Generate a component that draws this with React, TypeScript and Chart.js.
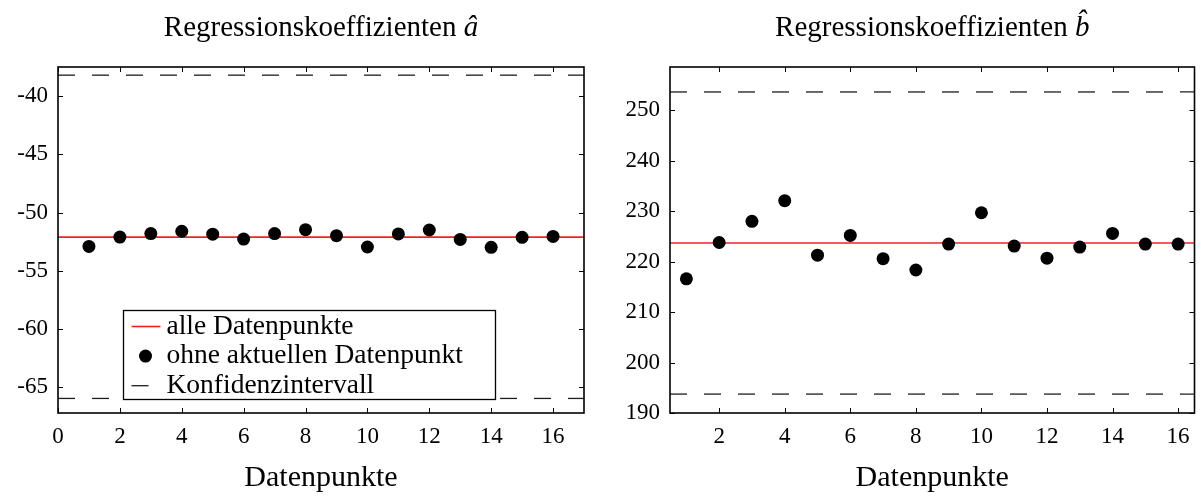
import React, { useEffect, useRef } from "react";
import { Chart, registerables } from "chart.js";

Chart.register(...registerables);

const FONT = '"Liberation Serif", "Times New Roman", serif';
const RED = "rgb(238, 36, 36)";
const DASH_COLOR = "#1e1e1e";

// ---------- data ----------
const datenpunkte = [1, 2, 3, 4, 5, 6, 7, 8, 9, 10, 11, 12, 13, 14, 15, 16];

const aHat = [-52.9, -52.1, -51.8, -51.6, -51.85, -52.27, -51.8, -51.46, -51.98, -52.95, -51.83, -51.49, -52.3, -52.98, -52.12, -52.04];
const aAlle = -52.1;
const aKonfidenz = [-65.95, -38.2];
const aXTicks = [0, 2, 4, 6, 8, 10, 12, 14, 16];
const aYTicks = [-65, -60, -55, -50, -45, -40];
const aXLimits = [0, 17];
const aYLimits = [-67.2, -37.5];

const bHat = [216.6, 223.8, 228.0, 232.1, 221.3, 225.2, 220.6, 218.35, 223.5, 229.7, 223.1, 220.7, 222.9, 225.6, 223.5, 223.5];
const bAlle = 223.7;
const bKonfidenz = [193.75, 253.65];
const bXTicks = [2, 4, 6, 8, 10, 12, 14, 16];
const bYTicks = [190, 200, 210, 220, 230, 240, 250];
const bXLimits = [0.5, 16.5];
const bYLimits = [190, 258.6];

const legendLabels = ["alle Datenpunkte", "ohne aktuellen Datenpunkt", "Konfidenzintervall"];
const titleText = "Regressionskoeffizienten";
const xTitle = "Datenpunkte";

// ---------- plugins ----------
const framePlugin = {
  id: "frame",
  afterDraw(chart: any) {
    const { ctx, chartArea } = chart;
    const { left, right, top, bottom } = chartArea;
    const x = chart.scales.x;
    const y = chart.scales.y;
    ctx.save();
    ctx.strokeStyle = "#000";
    ctx.lineWidth = 1;
    ctx.beginPath();
    x.ticks.forEach((t: any) => {
      const px = Math.round(x.getPixelForValue(t.value)) + 0.5;
      ctx.moveTo(px, bottom);
      ctx.lineTo(px, bottom - 5);
      ctx.moveTo(px, top);
      ctx.lineTo(px, top + 5);
    });
    y.ticks.forEach((t: any) => {
      const py = Math.round(y.getPixelForValue(t.value)) + 0.5;
      ctx.moveTo(left, py);
      ctx.lineTo(left + 5, py);
      ctx.moveTo(right, py);
      ctx.lineTo(right - 5, py);
    });
    ctx.stroke();
    ctx.lineWidth = 1.6;
    ctx.strokeRect(left, top, right - left, bottom - top);
    ctx.restore();
  },
};

function makeTitlePlugin(hat: string) {
  return {
    id: "plotTitle",
    afterDraw(chart: any) {
      const { ctx, chartArea } = chart;
      const cx = (chartArea.left + chartArea.right) / 2;
      const normal = `29px ${FONT}`;
      const ital = `italic 29px ${FONT}`;
      ctx.save();
      ctx.fillStyle = "#000";
      ctx.textBaseline = "alphabetic";
      ctx.textAlign = "left";
      const t1 = titleText + " ";
      ctx.font = normal;
      const w1 = ctx.measureText(t1).width;
      ctx.font = ital;
      const w2 = ctx.measureText(hat).width;
      const x0 = cx - (w1 + w2) / 2;
      ctx.font = normal;
      ctx.fillText(t1, x0, 36);
      ctx.font = ital;
      ctx.fillText(hat, x0 + w1, 36);
      ctx.restore();
    },
  };
}

const legendPlugin = {
  id: "insideLegend",
  afterDraw(chart: any) {
    const { ctx, chartArea: ca } = chart;
    const bx = Math.round(ca.left + 65) + 0.5;
    const by = Math.round(ca.top + 242.5) + 0.5;
    const bw = 372;
    const bh = 89;
    ctx.save();
    ctx.fillStyle = "#fff";
    ctx.fillRect(bx, by, bw, bh);
    ctx.strokeStyle = "#000";
    ctx.lineWidth = 1.3;
    ctx.strokeRect(bx, by, bw, bh);
    const ds = chart.data.datasets;
    const entries = [ds[1], ds[0], ds[2]];
    const rows = [16, 45.6, 75.2];
    entries.forEach((d: any, i: number) => {
      const cy = by + rows[i];
      if (i === 1) {
        ctx.fillStyle = d.backgroundColor;
        ctx.beginPath();
        ctx.arc(bx + 22, cy, d.pointRadius, 0, Math.PI * 2);
        ctx.fill();
      } else {
        ctx.strokeStyle = d.borderColor;
        ctx.lineWidth = d.borderWidth;
        ctx.setLineDash(d.borderDash || []);
        ctx.beginPath();
        ctx.moveTo(bx + 8, cy);
        ctx.lineTo(bx + 37, cy);
        ctx.stroke();
        ctx.setLineDash([]);
      }
      ctx.fillStyle = "#000";
      ctx.font = `27.5px ${FONT}`;
      ctx.textAlign = "left";
      ctx.textBaseline = "alphabetic";
      ctx.fillText(d.label, bx + 43, cy + 7);
    });
    ctx.restore();
  },
};

// ---------- config ----------
type PanelSpec = {
  values: number[];
  alle: number;
  konf: number[];
  xTicks: number[];
  yTicks: number[];
  xLim: number[];
  yLim: number[];
  hat: string;
  legend: boolean;
  left: number;
  width: number;
  yAxisWidth: number;
  padRight: number;
};

function buildConfig(p: PanelSpec): any {
  const [xMin, xMax] = p.xLim;
  const hLine = (y: number) => [
    { x: xMin, y },
    { x: xMax, y },
  ];
  const datasets: any[] = [
    {
      label: legendLabels[1],
      data: datenpunkte.map((x, i) => ({ x, y: p.values[i] })),
      backgroundColor: "#000",
      borderColor: "#000",
      pointRadius: 6.5,
      pointBorderWidth: 0,
      showLine: false,
      order: 0,
    },
    {
      label: legendLabels[0],
      data: hLine(p.alle),
      borderColor: RED,
      borderWidth: 1.6,
      pointRadius: 0,
      showLine: true,
      order: 1,
    },
    {
      label: legendLabels[2],
      data: hLine(p.konf[1]),
      borderColor: DASH_COLOR,
      borderWidth: 1.3,
      borderDash: [17, 17],
      pointRadius: 0,
      showLine: true,
      order: 2,
    },
    {
      label: legendLabels[2],
      data: hLine(p.konf[0]),
      borderColor: DASH_COLOR,
      borderWidth: 1.3,
      borderDash: [17, 17],
      pointRadius: 0,
      showLine: true,
      order: 2,
    },
  ];
  const plugins: any[] = [framePlugin, makeTitlePlugin(p.hat)];
  if (p.legend) plugins.push(legendPlugin);
  return {
    type: "scatter",
    data: { datasets },
    plugins,
    options: {
      animation: false,
      responsive: false,
      maintainAspectRatio: false,
      devicePixelRatio: 1,
      events: [],
      layout: { padding: { top: 67, right: p.padRight, left: 0, bottom: 0 } },
      plugins: {
        legend: { display: false },
        title: { display: false },
        tooltip: { enabled: false },
      },
      scales: {
        x: {
          type: "linear",
          min: xMin,
          max: xMax,
          afterBuildTicks: (s: any) => {
            s.ticks = p.xTicks.map((v) => ({ value: v }));
          },
          afterFit: (s: any) => {
            s.height = 83;
          },
          grid: { display: false, drawTicks: false },
          border: { display: false },
          ticks: {
            color: "#000",
            font: { family: FONT, size: 23 },
            padding: 10,
            maxRotation: 0,
            autoSkip: false,
            callback: (v: any) => String(v),
          },
          title: {
            display: true,
            text: xTitle,
            color: "#000",
            font: { family: FONT, size: 30 },
            padding: { top: 0, bottom: 0 },
          },
        },
        y: {
          type: "linear",
          min: p.yLim[0],
          max: p.yLim[1],
          afterBuildTicks: (s: any) => {
            s.ticks = p.yTicks.map((v) => ({ value: v }));
          },
          afterFit: (s: any) => {
            s.width = p.yAxisWidth;
          },
          grid: { display: false, drawTicks: false },
          border: { display: false },
          ticks: {
            color: "#000",
            font: { family: FONT, size: 23 },
            padding: 10,
            autoSkip: false,
            callback: (v: any) => String(v),
          },
        },
      },
    },
  };
}

const panels: PanelSpec[] = [
  {
    values: aHat,
    alle: aAlle,
    konf: aKonfidenz,
    xTicks: aXTicks,
    yTicks: aYTicks,
    xLim: aXLimits,
    yLim: aYLimits,
    hat: "â",
    legend: true,
    left: 0,
    width: 600,
    yAxisWidth: 58,
    padRight: 16,
  },
  {
    values: bHat,
    alle: bAlle,
    konf: bKonfidenz,
    xTicks: bXTicks,
    yTicks: bYTicks,
    xLim: bXLimits,
    yLim: bYLimits,
    hat: "b\u0302",
    legend: false,
    left: 600,
    width: 601,
    yAxisWidth: 70,
    padRight: 6,
  },
];

function Panel({ spec }: { spec: PanelSpec }) {
  const ref = useRef<HTMLCanvasElement>(null);
  useEffect(() => {
    if (!ref.current) return;
    const chart = new Chart(ref.current, buildConfig(spec));
    return () => chart.destroy();
  }, [spec]);
  return (
    <canvas
      ref={ref}
      width={spec.width}
      height={496}
      style={{ position: "absolute", left: spec.left, top: 0, width: spec.width, height: 496 }}
    />
  );
}

export default function App() {
  return (
    <div style={{ position: "fixed", left: 0, top: 0, width: 1201, height: 496, background: "#fff", overflow: "hidden" }}>
      {panels.map((p, i) => (
        <Panel key={i} spec={p} />
      ))}
    </div>
  );
}
